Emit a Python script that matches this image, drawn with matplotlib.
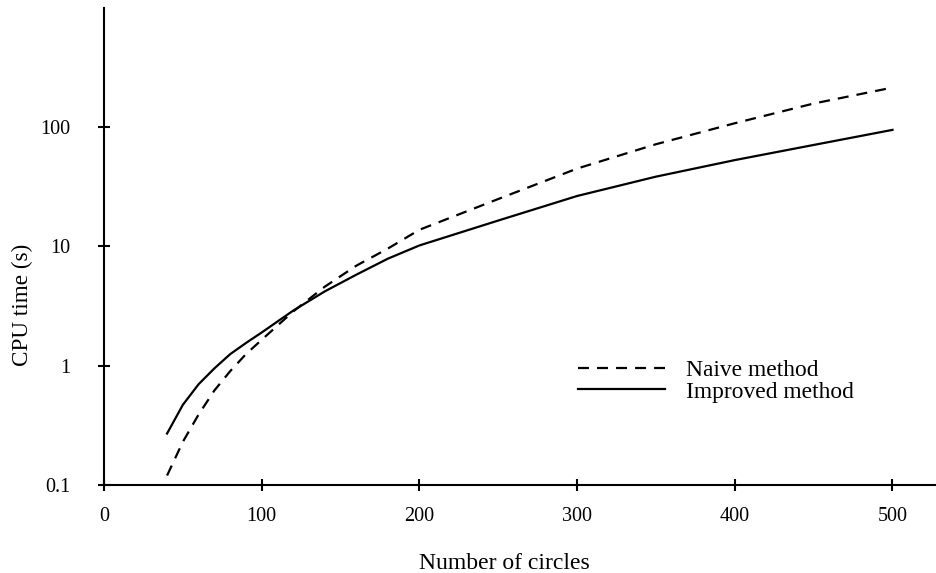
import matplotlib
matplotlib.use("Agg")
import matplotlib.pyplot as plt
from matplotlib.ticker import FixedLocator, NullLocator

# Number of circles
n_circles = [40, 50, 60, 70, 80, 90, 100, 120, 140, 160, 180, 200,
             250, 300, 350, 400, 450, 500]
# CPU time (s), naive method
naive_time = [0.12, 0.23, 0.39, 0.62, 0.9, 1.25, 1.65, 2.85, 4.6, 6.9, 9.6, 13.8,
              25.0, 45.0, 72.0, 108.0, 158.0, 215.0]
# CPU time (s), improved method
improved_time = [0.27, 0.47, 0.70, 0.95, 1.25, 1.55, 1.9, 2.9, 4.2, 5.8, 7.9, 10.2,
                 16.5, 26.5, 38.5, 53.0, 71.0, 95.0]

y_ticks = [0.1, 1, 10, 100]
y_tick_labels = ["0.1", "1", "10", "100"]
x_ticks = [0, 100, 200, 300, 400, 500]

plt.rcParams["font.family"] = ["Liberation Serif", "DejaVu Serif"]

fig = plt.figure(figsize=(9.36, 5.73), dpi=100)
ax = fig.add_axes([0.1111, 0.1536, 0.8889, 0.8325])

lw = 1.6
ax.plot(n_circles, naive_time, color="black", lw=lw,
        dashes=(7.9 / lw, 5.8 / lw), label="Naive method")
ax.plot(n_circles, improved_time, color="black", lw=lw,
        label="Improved method")

ax.set_yscale("log")
ax.set_ylim(0.1, 1000)
ax.set_xlim(0, 527.6)

ax.yaxis.set_major_locator(FixedLocator(y_ticks))
ax.set_yticklabels(y_tick_labels)
ax.yaxis.set_minor_locator(NullLocator())
ax.set_xticks(x_ticks)

for side in ("top", "right"):
    ax.spines[side].set_visible(False)
for side in ("left", "bottom"):
    ax.spines[side].set_linewidth(1.5)

ax.tick_params(axis="x", direction="inout", length=8.6, width=1.5,
               pad=11.5, labelsize=14.5)
ax.tick_params(axis="y", direction="inout", length=8.6, width=1.5,
               pad=20, labelsize=14.5)

# axis labels (y label sits centred on the labelled decades, as in the print)
ax.set_xlabel("Number of circles", fontsize=17)
ax.set_ylabel("CPU time (s)", fontsize=16.7)
ax.xaxis.set_label_coords(0.481, -0.1426)
ax.yaxis.set_label_coords(-0.085, 0.377)

ax.legend(loc="upper left", bbox_to_anchor=(0.5697, 0.2625), frameon=False,
          fontsize=16.9, handlelength=3.7, handletextpad=0.92,
          labelspacing=0.0, borderpad=0, borderaxespad=0)

fig.savefig("out.png", dpi=100, facecolor="white")
